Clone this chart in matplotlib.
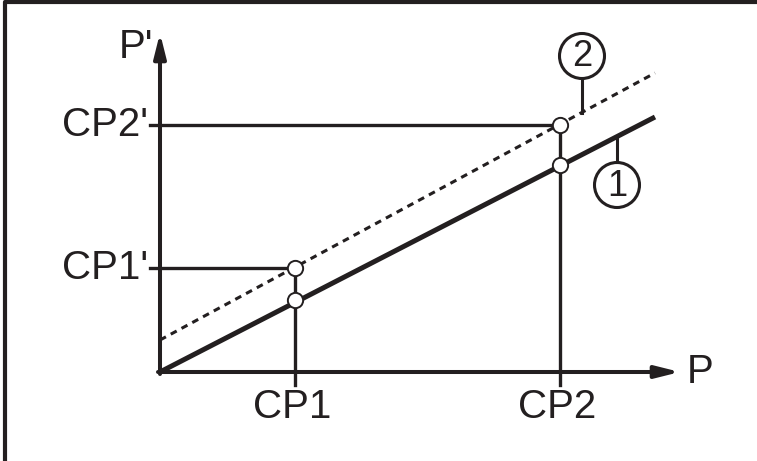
import matplotlib.pyplot as plt
from matplotlib.patches import Circle

plt.rcParams['font.family'] = ['Liberation Sans', 'DejaVu Sans']

ink = '#231f20'

# characteristic lines (P, P') - 1 = solid, 2 = dashed (offset)
line_p = [0.0, 4.95]
line1_pp = [0.0, 2.55]
line2_pp = [0.32, 2.99]

# calibration points
cp_names = ['CP1', 'CP2']
cp_p = [1.35, 4.0]
cp_solid = [0.72, 2.07]
cp_dashed = [1.04, 2.47]

fig = plt.figure(figsize=(7.57, 4.61), dpi=100)
ax = fig.add_axes([0, 0, 1, 1])
ax.set_xlim(-1.60, 5.97)
ax.set_ylim(-0.89, 3.72)
ax.axis('off')

# frame (top + left only)
ax.plot([0.0066, 0.0066, 1.0], [0.0, 0.9957, 0.9957], transform=ax.transAxes,
        color=ink, lw=3, solid_capstyle='butt', clip_on=False)

# axes with arrows
arr = dict(arrowstyle='-|>,head_length=0.8,head_width=0.2', color=ink, lw=2.9,
           mutation_scale=18, shrinkA=0, shrinkB=0)
ax.annotate('', xy=(5.20, 0), xytext=(-0.02, 0), arrowprops=arr)
ax.annotate('', xy=(0, 3.39), xytext=(0, -0.02), arrowprops=arr)
ax.text(5.27, 0.0, 'P', fontsize=29, color=ink, ha='left', va='center')
ax.text(-0.07, 3.25, "P'", fontsize=29, color=ink, ha='right', va='center')

# lines
ax.plot(line_p, line1_pp, color=ink, lw=3.6, solid_capstyle='butt')
ax.plot(line_p, line2_pp, color=ink, lw=2.2, linestyle=(0, (2.2, 1.8)))

# guide lines to calibration points
for name, x, ys, yd in zip(cp_names, cp_p, cp_solid, cp_dashed):
    ax.plot([x, x], [-0.13, yd], color=ink, lw=2.4, zorder=2)
    ax.plot([-0.10, x], [yd, yd], color=ink, lw=2.4, zorder=2)
    ax.text(x - 0.03, -0.35, name, fontsize=29, color=ink, ha='center', va='center')
    ax.text(-0.12, yd, name + "'", fontsize=29, color=ink, ha='right', va='center')

ax.plot(cp_p + cp_p, cp_solid + cp_dashed, 'o', ms=11, mfc='white', mec=ink,
        mew=1.4, zorder=5)

# callouts
callouts = [('1', 4.57, 1.87, 2.354), ('2', 4.22, 3.16, 2.595)]
r = 0.225
for lab, cx, cy, yl in callouts:
    ax.add_patch(Circle((cx, cy), r, fill=False, ec=ink, lw=2.2))
    ax.text(cx, cy - 0.01, lab, fontsize=26, color=ink, ha='center', va='center')
    y0 = cy + r if yl > cy else cy - r
    ax.plot([cx, cx], [y0, yl], color=ink, lw=2.2)

fig.savefig('out.png', dpi=100)
